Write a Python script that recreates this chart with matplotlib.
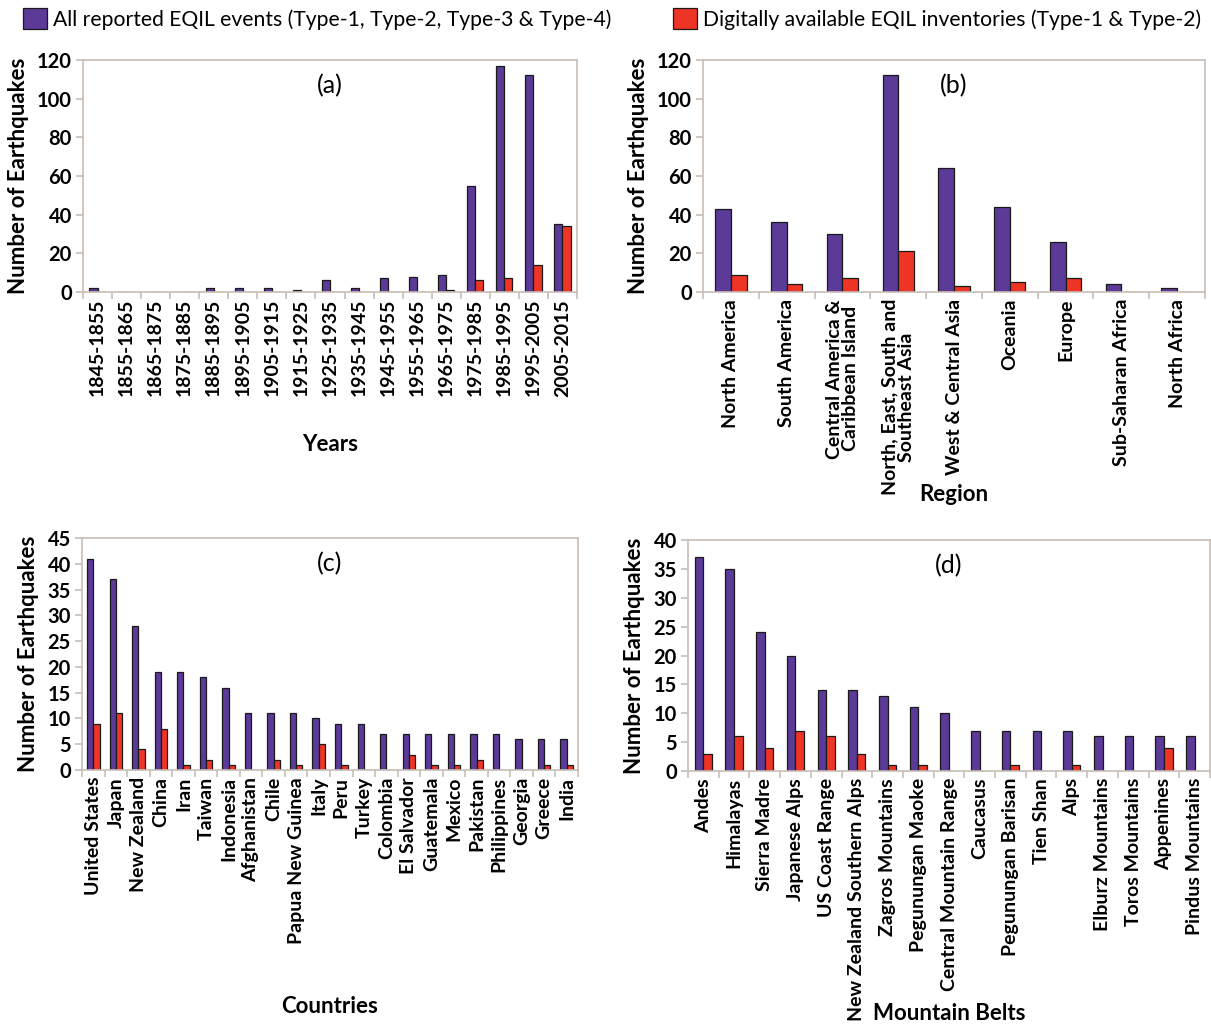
import matplotlib
matplotlib.use("Agg")
import matplotlib.pyplot as plt
import numpy as np

plt.rcParams['font.family'] = ['Lato', 'DejaVu Sans']

# (a) Years
years = ['1845-1855', '1855-1865', '1865-1875', '1875-1885', '1885-1895', '1895-1905',
         '1905-1915', '1915-1925', '1925-1935', '1935-1945', '1945-1955', '1955-1965',
         '1965-1975', '1975-1985', '1985-1995', '1995-2005', '2005-2015']
years_all = [2, 0, 0, 0, 2, 2, 2, 1, 6, 2, 7, 8, 9, 55, 117, 112, 35]
years_dig = [0, 0, 0, 0, 0, 0, 0, 0, 0, 0, 0, 0, 1, 6, 7, 14, 34]

# (b) Region
regions = ['North America', 'South America', 'Central America &\nCaribbean Island',
           'North, East, South and\nSoutheast Asia', 'West & Central Asia', 'Oceania',
           'Europe', 'Sub-Saharan Africa', 'North Africa']
regions_all = [43, 36, 30, 112, 64, 44, 26, 4, 2]
regions_dig = [9, 4, 7, 21, 3, 5, 7, 0, 0]

# (c) Countries
countries = ['United States', 'Japan', 'New Zealand', 'China', 'Iran', 'Taiwan', 'Indonesia',
             'Afghanistan', 'Chile', 'Papua New Guinea', 'Italy', 'Peru', 'Turkey', 'Colombia',
             'El Salvador', 'Guatemala', 'Mexico', 'Pakistan', 'Philippines', 'Georgia',
             'Greece', 'India']
countries_all = [41, 37, 28, 19, 19, 18, 16, 11, 11, 11, 10, 9, 9, 7, 7, 7, 7, 7, 7, 6, 6, 6]
countries_dig = [9, 11, 4, 8, 1, 2, 1, 0, 2, 1, 5, 1, 0, 0, 3, 1, 1, 2, 0, 0, 1, 1]

# (d) Mountain belts
belts = ['Andes', 'Himalayas', 'Sierra Madre', 'Japanese Alps', 'US Coast Range',
         'New Zealand Southern Alps', 'Zagros Mountains', 'Pegunungan Maoke',
         'Central Mountain Range', 'Caucasus', 'Pegunungan Barisan', 'Tien Shan', 'Alps',
         'Elburz Mountains', 'Toros Mountains', 'Appenines', 'Pindus Mountains']
belts_all = [37, 35, 24, 20, 14, 14, 13, 11, 10, 7, 7, 7, 7, 6, 6, 6, 6]
belts_dig = [3, 6, 4, 7, 6, 3, 1, 1, 0, 0, 1, 0, 1, 0, 0, 4, 0]

PURPLE = '#5B3A98'
RED = '#EE3424'
FRAME = '#C9BDB6'

W, H = 1211, 1027
fig = plt.figure(figsize=(W / 100, H / 100), dpi=100)


def px_axes(left, right, top, bottom):
    return fig.add_axes([left / W, 1 - bottom / H, (right - left) / W, (bottom - top) / H])


def panel(ax, cats, v_all, v_dig, ymax, ystep, tag, xlabel, xlab_y):
    x = np.arange(len(cats))
    w = 0.28
    b1 = ax.bar(x - w / 2, v_all, w, color=PURPLE, edgecolor='#1a1a1a', linewidth=0.9)
    b2 = ax.bar(x + w / 2, v_dig, w, color=RED, edgecolor='#1a1a1a', linewidth=0.9)
    ax.set_xlim(-0.5, len(cats) - 0.5)
    ax.set_ylim(0, ymax)
    ax.set_yticks(np.arange(0, ymax + 1, ystep))
    ax.set_xticks(np.arange(-0.5, len(cats), 1.0))
    ax.set_xticklabels([])
    ax.set_xticks(x, minor=True)
    ax.set_xticklabels(cats, minor=True, rotation=90, fontsize=14, fontweight='bold',
                       linespacing=0.95)
    ax.tick_params(axis='x', which='minor', length=0, pad=5)
    ax.tick_params(axis='x', which='major', length=5, color=FRAME, width=1.2)
    ax.tick_params(axis='y', length=5, color=FRAME, width=1.2, labelsize=14.5, pad=3)
    for lab in ax.get_yticklabels():
        lab.set_fontweight('bold')
    for s in ax.spines.values():
        s.set_color(FRAME)
        s.set_linewidth(1.2)
    ax.set_ylabel('Number of Earthquakes', fontsize=16, fontweight='bold', labelpad=6)
    ax.set_xlabel(xlabel, fontsize=16, fontweight='bold')
    ax.xaxis.set_label_coords(0.5, xlab_y)
    ax.text(0.5, 0.89, tag, transform=ax.transAxes, ha='center', va='center', fontsize=18)
    return b1, b2


ax_a = px_axes(83, 577, 60, 292)
b1, b2 = panel(ax_a, years, years_all, years_dig, 120, 20, '(a)', 'Years', -(434 - 292) / 232)

ax_b = px_axes(703, 1205, 60, 292)
panel(ax_b, regions, regions_all, regions_dig, 120, 20, '(b)', 'Region', -(484 - 292) / 232)

ax_c = px_axes(82, 578, 538, 770)
panel(ax_c, countries, countries_all, countries_dig, 45, 5, '(c)', 'Countries', -(996 - 770) / 232)

ax_d = px_axes(688, 1210, 540, 771)
panel(ax_d, belts, belts_all, belts_dig, 40, 5, '(d)', 'Mountain Belts', -(1003 - 771) / 231)

fig.legend([b1], ['All reported EQIL events (Type-1, Type-2, Type-3 & Type-4)'],
           loc='center left', bbox_to_anchor=(4 / W, 1 - 19 / H), frameon=False,
           fontsize=15.2, handlelength=1.15, handleheight=1.15, handletextpad=0.25)
fig.legend([b2], ['Digitally available EQIL inventories (Type-1 & Type-2)'],
           loc='center left', bbox_to_anchor=(654 / W, 1 - 19 / H), frameon=False,
           fontsize=15.2, handlelength=1.15, handleheight=1.15, handletextpad=0.25)

fig.savefig('out.png', dpi=100)
